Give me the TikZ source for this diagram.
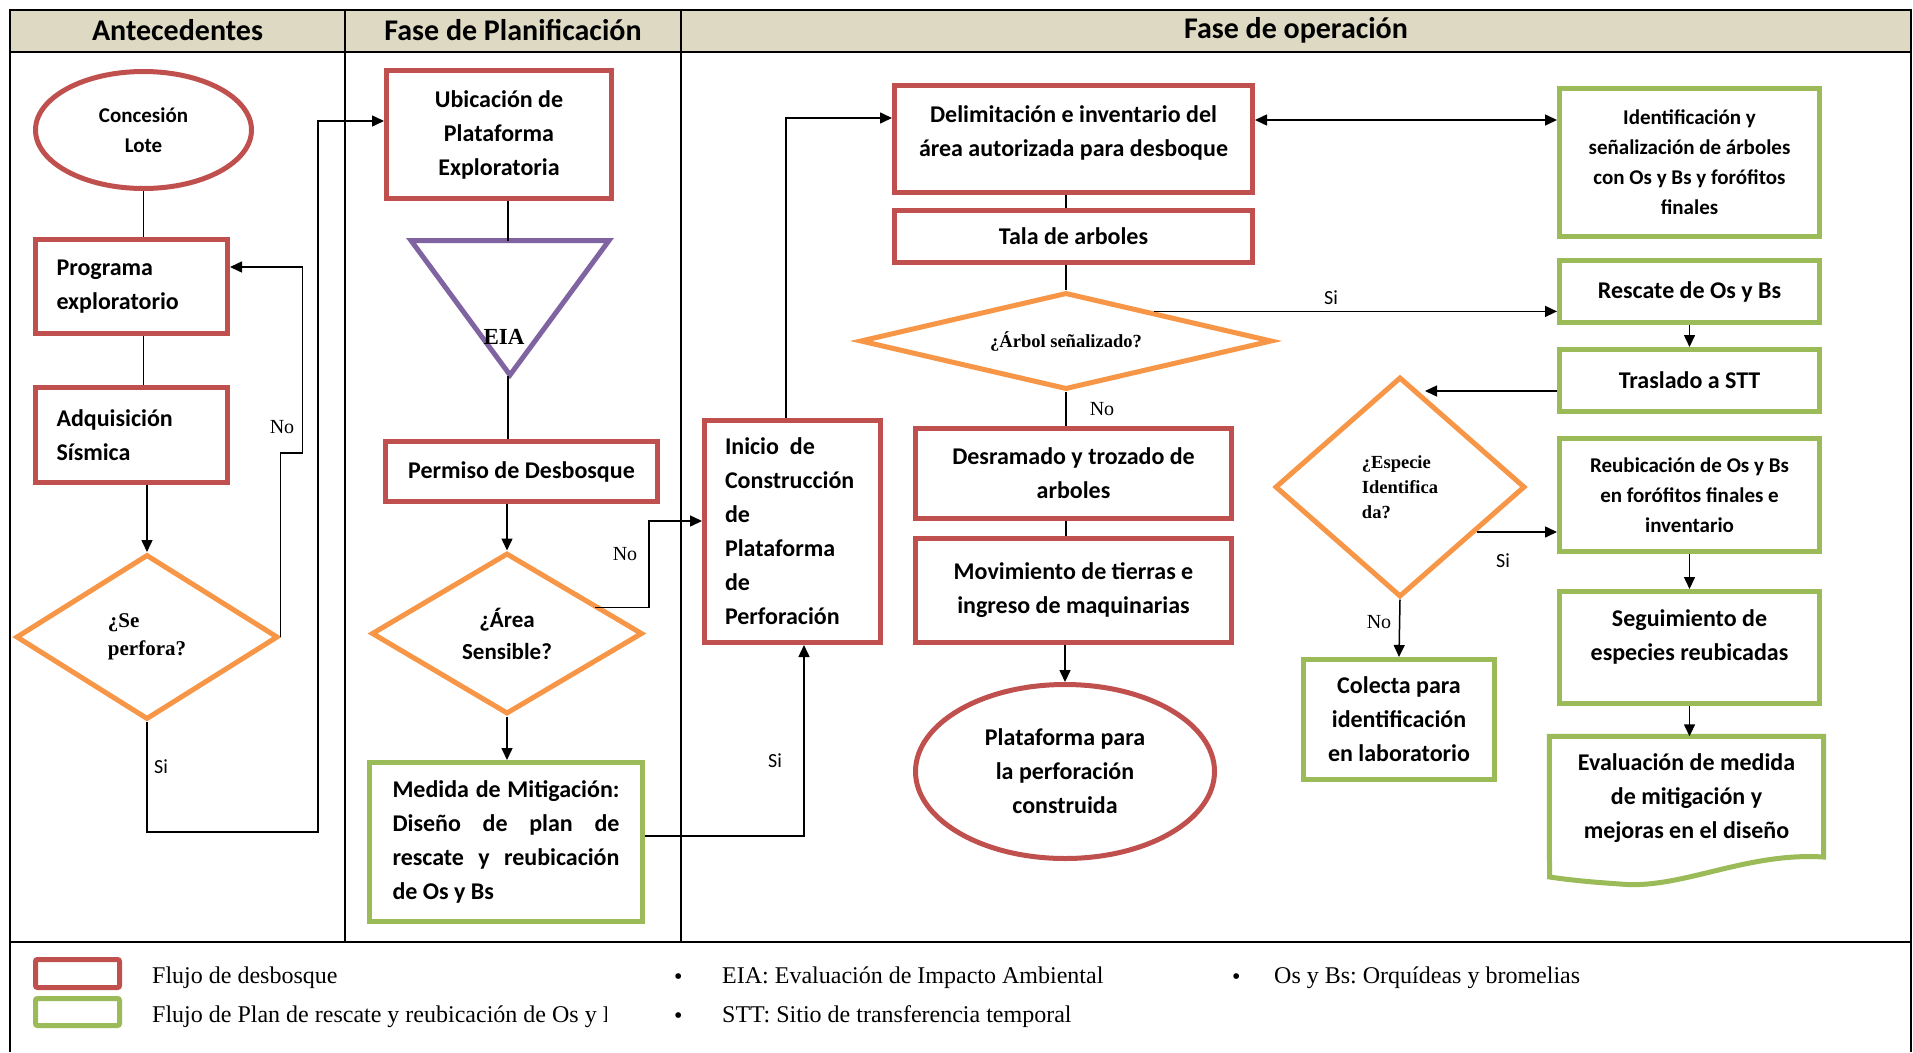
\documentclass[tikz,border=0pt]{standalone}
\usepackage{fontspec}
\setmainfont{Carlito}
\newfontfamily\tnr{Liberation Serif}
\usepackage{xcolor}
\usetikzlibrary{arrows.meta, positioning, shapes.geometric, calc}

\definecolor{rojo}{HTML}{C0504D}
\definecolor{verde}{HTML}{9BBB59}
\definecolor{naranja}{HTML}{F79646}
\definecolor{morado}{HTML}{8064A2}
\definecolor{cabecera}{HTML}{DDD9C3}

\frenchspacing
\newcommand{\spread}[1]{\makebox[227pt][s]{\spaceskip=0.25em plus 1fil\relax #1}}
\newcommand{\normalgap}{\spaceskip=0pt\xspaceskip=0pt\relax}

\begin{document}
\begin{tikzpicture}[
    x=1pt, y=-1pt,
    every node/.style={inner sep=0pt},
    txt/.style={font=\bfseries\fontsize{24}{34}\selectfont},
    txtsm/.style={font=\bfseries\fontsize{21}{30}\selectfont},
    redbox/.style={rectangle, draw=rojo, line width=5pt, align=center, txt},
    greenbox/.style={rectangle, draw=verde, line width=5pt, align=center, txt},
    terminal/.style={ellipse, draw=rojo, line width=5pt, align=center, txt},
    decision/.style={diamond, draw=naranja, line width=5pt, align=center},
    arrow/.style={-{Triangle[length=12pt,width=11pt]}, line width=1.5pt},
    twoway/.style={{Triangle[length=12pt,width=11pt]}-{Triangle[length=12pt,width=11pt]}, line width=1.5pt},
    link/.style={line width=1.5pt},
    lblsi/.style={font=\fontsize{20}{20}\selectfont},
    lblno/.style={font=\tnr\fontsize{20}{20}\selectfont},
    leyenda/.style={font=\tnr\fontsize{24}{24}\selectfont, anchor=west}
  ]

  % marco y cabecera
  \useasboundingbox (0,0) rectangle (1913,1052);
  \fill[white] (0,0) rectangle (1913,1052);
  \fill[cabecera] (10,10) rectangle (1911,52);
  \draw[line width=2pt] (10,1052) -- (10,10) -- (1911,10) -- (1911,1052);
  \draw[line width=2.7pt] (10,52) -- (1911,52);
  \draw[line width=2.5pt] (10,942) -- (1911,942);
  \draw[line width=1.5pt] (345,10) -- (345,942) (681,10) -- (681,942);

  \node[font=\bfseries\fontsize{30}{30}\selectfont] (hdant) at (177.5,30) {Antecedentes};
  \node[font=\bfseries\fontsize{30}{30}\selectfont] (hdplan) at (513,30) {Fase de Planificación};
  \node[font=\bfseries\fontsize{30}{30}\selectfont] (hdop) at (1296,30) {Fase de operación};

  % antecedentes
  \node[terminal, txtsm, minimum width=216pt, minimum height=117pt] (lote) at (143.5,130) {Concesión\\Lote};
  \node[redbox, minimum width=192pt, minimum height=94pt, text width=150pt, align=left] (prog) at (131.5,286.5) {\normalgap Programa\\exploratorio};
  \node[redbox, below=49pt of prog, minimum width=192pt, minimum height=95pt, text width=150pt, align=left] (adq) {\normalgap Adquisición\\Sísmica};
  \node[decision, aspect=1.6, minimum width=262pt, minimum height=165pt, align=left, font=\tnr\bfseries\fontsize{21}{28}\selectfont] (perfora) at (147,637) {\normalgap ¿Se\\perfora?};

  % planificacion
  \node[redbox, minimum width=225pt, minimum height=128pt] (ubic) at (499,134.5) {Ubicación de\\Plataforma\\Exploratoria};
  \coordinate (eiatop) at (508,240.5);
  \coordinate (eiatip) at (508,376);
  \draw[morado, line width=5pt] (411,240.5) -- (609,240.5) -- (510,375) -- cycle;
  \node[font=\tnr\bfseries\fontsize{23}{23}\selectfont] (eia) at (504,337) {EIA};
  \node[redbox, minimum width=272pt, minimum height=60pt] (permiso) at (521.5,471.5) {Permiso de Desbosque};
  \node[decision, aspect=1.68, minimum width=271pt, minimum height=161pt, font=\bfseries\fontsize{23}{32}\selectfont] (area) at (507,633.5) {¿Área\\Sensible?};
  \node[greenbox, minimum width=273pt, minimum height=159pt, text width=227pt, align=left] (medida) at (506,842) {\normalgap\spread{Medida de Mitigación:}\\\spread{Diseño de plan de}\\\spread{rescate y reubicación}\\de Os y Bs};

  % operacion
  \node[redbox, minimum width=176pt, minimum height=222pt, text width=135pt, align=left] (inicio) at (792.5,531.5) {\normalgap Inicio\ \ de\\Construcción\\de\\Plataforma\\de\\Perforación};
  \node[redbox, minimum width=358pt, minimum height=107pt] (delim) at (1073.5,139) {Delimitación e inventario del\\área autorizada para desboque\\[-19pt]\mbox{}};
  \node[redbox, below=13pt of delim, minimum width=358pt, minimum height=52pt] (tala) {Tala de arboles};
  \node[decision, aspect=4.25, minimum width=412pt, minimum height=97pt, font=\tnr\bfseries\fontsize{18.5}{22}\selectfont] (arbol) at (1066,341) {¿Árbol señalizado?};
  \node[redbox, minimum width=316pt, minimum height=90pt] (desram) at (1073.5,473.5) {Desramado y trozado de\\arboles};
  \node[redbox, below=15pt of desram, minimum width=316pt, minimum height=104pt] (movim) {Movimiento de tierras e\\ingreso de maquinarias};
  \node[terminal, minimum width=299pt, minimum height=174pt] (plataf) at (1065,771.5) {Plataforma para\\la perforación\\construida};

  \node[greenbox, txtsm, minimum width=260pt, minimum height=148pt] (ident) at (1689.5,162.5) {Identificación y\\señalización de árboles\\con Os y Bs y forófitos\\finales};
  \node[greenbox, below=19pt of ident, minimum width=260pt, minimum height=62pt] (rescate) {Rescate de Os y Bs};
  \node[greenbox, below=22pt of rescate, minimum width=260pt, minimum height=62pt] (traslado) {Traslado a STT};
  \node[greenbox, txtsm, below=22pt of traslado, minimum width=260pt, minimum height=113pt] (reubic) {Reubicación de Os y Bs\\en forófitos finales e\\inventario};
  \node[greenbox, below=35pt of reubic, minimum width=260pt, minimum height=112pt] (seguim) {Seguimiento de\\especies reubicadas\\[-10pt]\mbox{}};
  \node[decision, aspect=1.14, minimum width=250pt, minimum height=220pt, align=left, font=\tnr\bfseries\fontsize{18.5}{25}\selectfont] (especie) at (1400,487) {\normalgap ¿Especie\\Identifica\\da?};
  \node[greenbox, minimum width=191pt, minimum height=120pt] (colecta) at (1399,719.5) {Colecta para\\identificación\\en laboratorio};
  \node[txt, align=center, minimum width=274pt, minimum height=123pt] (evalua) at (1686.5,798) {Evaluación de medida\\de mitigación y\\mejoras en el diseño};
  \draw[verde, line width=5pt] (evalua.north west) -- (evalua.north east) -- (1823.5,857)
    .. controls (1745,852) and (1680,890) .. (1620,884)
    .. controls (1590,882) and (1570,880) .. (1549.5,877) -- cycle;

  % conectores
  \draw[link] (lote.south) -- (lote.south |- prog.north);
  \draw[link] (prog.south -| lote.south) -- (adq.north -| lote.south);
  \draw[arrow] (adq.south -| perfora.north) -- (perfora.north);
  \draw[arrow] (perfora.east) -- ++(0,-184) -- ++(22,0) |- ([yshift=19.5pt]prog.east);
  \node[lblno] (no1) at (282,427) {No};
  \draw[arrow] (perfora.south) -- ++(0,110) -- ++(171,0) |- ([yshift=13.5pt]ubic.west);
  \node[lblsi] (si1) at (161,767) {Si};

  \draw[link] (ubic.south -| eiatop) -- (eiatop);
  \draw[link] (eiatip) -- (permiso.north -| eiatip);
  \draw[arrow] (permiso.south -| area.north) -- (area.north);
  \draw[arrow] ([xshift=-50pt,yshift=26pt]area.east) -- ++(54,0) |- ([yshift=10.5pt]inicio.west);
  \node[lblno] (no2) at (625,554) {No};
  \draw[arrow] (area.south) -- (medida.north -| area.south);
  \draw[arrow] ([yshift=6pt]medida.east) -| ([xshift=11.5pt]inicio.south);
  \node[lblsi] (si2) at (775,761) {Si};

  \draw[arrow] ([xshift=-6.5pt]inicio.north) |- ([yshift=21pt]delim.west);
  \draw[twoway] ([yshift=19pt]delim.east) -- ([yshift=19pt]delim.east -| ident.west);
  \draw[link] (delim.south -| arbol.north) -- (tala.north -| arbol.north);
  \draw[link] (tala.south -| arbol.north) -- (arbol.north);
  \coordinate (arbolsi) at ($(arbol.north)!0.42!(arbol.east)$);
  \draw[arrow] (arbolsi) -- (arbolsi -| rescate.west);
  \node[lblsi] (si3) at (1331,298) {Si};
  \draw[link] (arbol.south) -- (desram.north -| arbol.south);
  \node[lblno] (no3) at (1102,409) {No};
  \draw[link] (desram.south -| arbol.south) -- (movim.north -| arbol.south);
  \draw[arrow] (movim.south -| plataf.north) -- (plataf.north);

  \draw[arrow] (rescate.south) -- (traslado.north);
  \draw[arrow] ([yshift=-10.5pt]traslado.west) -- ++(-132,0);
  \coordinate (especiesi) at ($(especie.east)!0.4!(especie.south)$);
  \draw[arrow] (especiesi) -- (especiesi -| reubic.west);
  \node[lblsi] (si4) at (1503,561) {Si};
  \draw[arrow] (especie.south) -- (colecta.north);
  \node[lblno] (no4) at (1379,622) {No};
  \draw[arrow] (reubic.south) -- (seguim.north);
  \draw[arrow] (seguim.south) -- (seguim.south |- evalua.north);

  % leyenda
  \node[draw=rojo, line width=5pt, rounded corners=2pt, minimum width=84pt, minimum height=28pt] (legrojo) at (77.5,973.5) {};
  \node[draw=verde, line width=5pt, rounded corners=2pt, minimum width=84pt, minimum height=27pt] (legverde) at (77.5,1012) {};
  \node[leyenda] (legdes) at (152,978) {Flujo de desbosque};
  \begin{scope}
    \clip (140,995) rectangle (606,1040);
    \node[leyenda] (legplan) at (152,1017) {Flujo de Plan de rescate y reubicación de Os y Bs};
  \end{scope}
  \node[leyenda] (bul1) at (674,979) {\textbullet};
  \node[leyenda] (legeia) at (722,978) {EIA: Evaluación de Impacto Ambiental};
  \node[leyenda] (bul2) at (674,1018) {\textbullet};
  \node[leyenda] (legstt) at (722,1017) {STT: Sitio de transferencia temporal};
  \node[leyenda] (bul3) at (1232,979) {\textbullet};
  \node[leyenda] (legos) at (1274,978) {Os y Bs: Orquídeas y bromelias};

\end{tikzpicture}
\end{document}
